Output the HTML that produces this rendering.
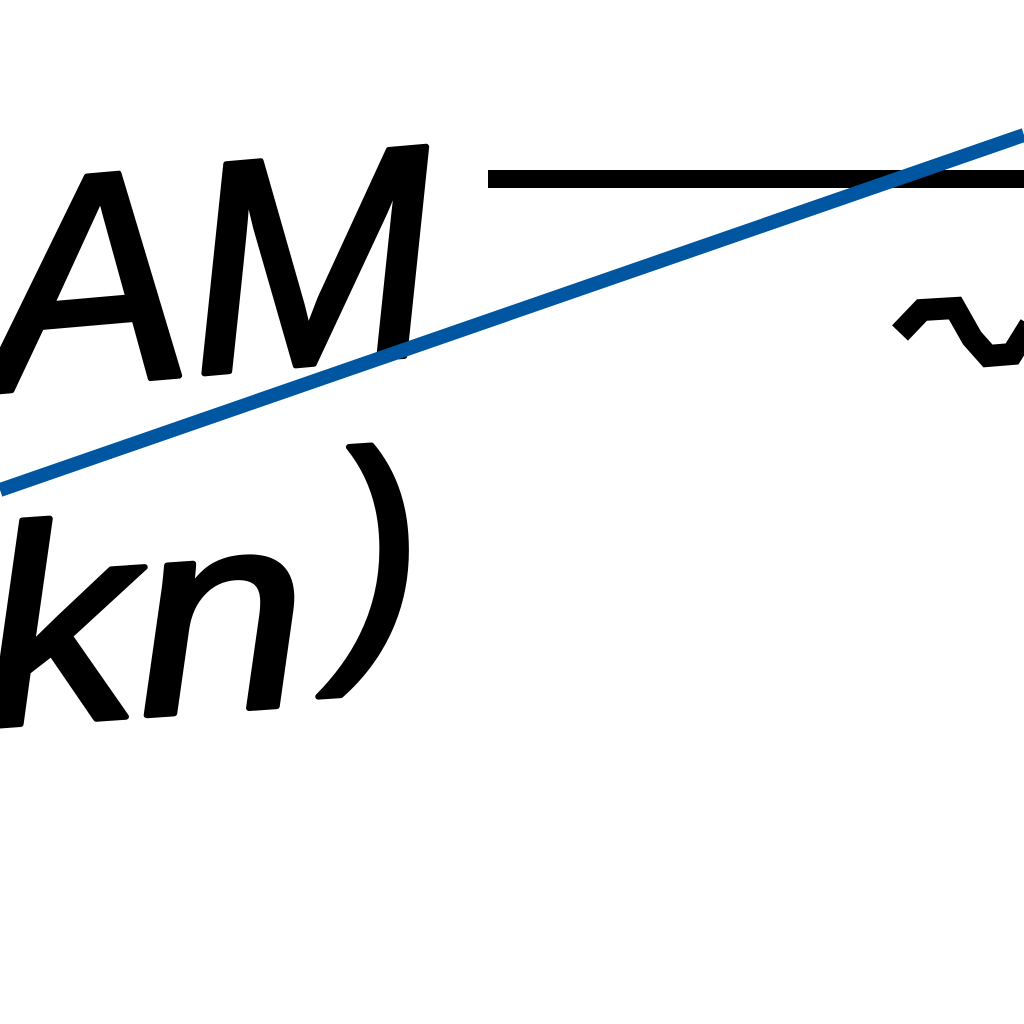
<!DOCTYPE html>
<html>
<head>
<meta charset="utf-8">
<style>
  html,body{margin:0;padding:0;background:#fff;width:1024px;height:1024px;overflow:hidden;}
  svg{display:block;}
  text{font-family:"Liberation Sans",sans-serif;font-style:italic;fill:#000;stroke:#000;stroke-width:6;stroke-linejoin:round;}
</style>
</head>
<body>
<svg id="chart" width="1024" height="1024" viewBox="0 0 1024 1024" shape-rendering="crispEdges">
  <rect x="0" y="0" width="1024" height="1024" fill="#fff"/>
  <text x="-5" y="372" font-size="300" transform="rotate(-5 220 372)" textLength="450" lengthAdjust="spacingAndGlyphs">AM</text>
  <text x="-12" y="715" font-size="280" transform="rotate(-4 150 715)" textLength="325" lengthAdjust="spacingAndGlyphs">kn</text>
  <text x="340" y="637" font-size="265" transform="rotate(-4 385 637)">)</text>
  <rect x="488" y="170" width="536" height="18" fill="#000"/>
  <path d="M900 333 L922 310 L955 308 L972 338 L988 356 L1012 354 L1030 325" fill="none" stroke="#000" stroke-width="22" shape-rendering="auto"/>
  <g id="series"></g>
</svg>
<script>
const xValues = [0, 1];
const yValues = [0, 1];
const xDomain = [0, 1];
const yDomain = [0, 1];
function xScale(v){ return 0 + (v - xDomain[0]) / (xDomain[1] - xDomain[0]) * 1024; }
function yScale(v){ return 490 - (v - yDomain[0]) / (yDomain[1] - yDomain[0]) * 355; }
const g = document.getElementById('series');
const line = document.createElementNS('http://www.w3.org/2000/svg','polyline');


line.setAttribute('points', xValues.map((x,i)=>xScale(x)+','+yScale(yValues[i])).join(' '));
line.setAttribute('fill','none');
line.setAttribute('stroke','#0056a0');
line.setAttribute('stroke-width','14');
line.setAttribute('shape-rendering','auto');
g.appendChild(line);
</script>
</body>
</html>
